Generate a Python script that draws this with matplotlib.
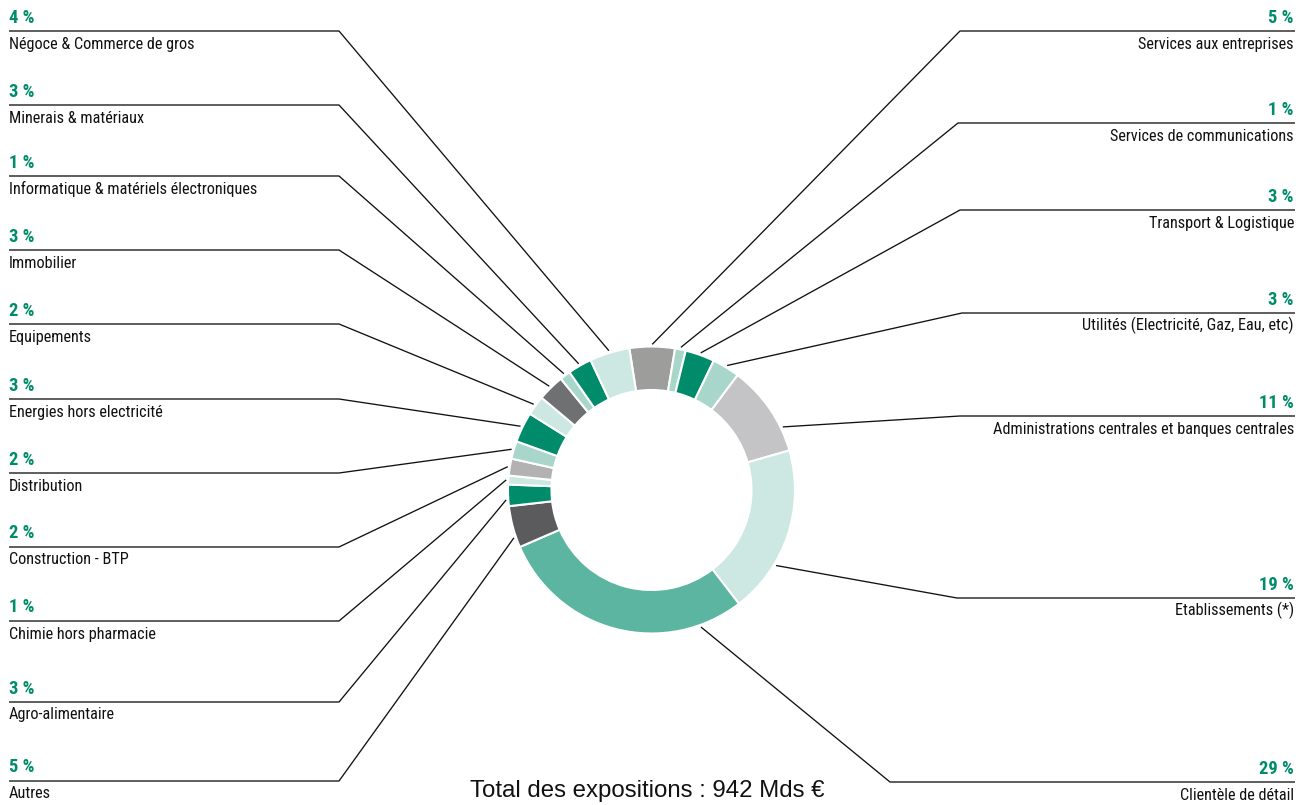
import numpy as np
import matplotlib
matplotlib.use("Agg")
import matplotlib.pyplot as plt
from matplotlib import font_manager


# Sectors, clockwise from the top of the ring
sectors = [
    "Services aux entreprises",
    "Services de communications",
    "Transport & Logistique",
    "Utilités (Electricité, Gaz, Eau, etc)",
    "Administrations centrales et banques centrales",
    "Etablissements (*)",
    "Clientèle de détail",
    "Autres",
    "Agro-alimentaire",
    "Chimie hors pharmacie",
    "Construction - BTP",
    "Distribution",
    "Energies hors electricité",
    "Equipements",
    "Immobilier",
    "Informatique & matériels électroniques",
    "Minerais & matériaux",
    "Négoce & Commerce de gros",
]
# share of each slice
shares = [5.1, 1.2, 3.3, 3.1, 10.3, 19.0, 28.9, 4.7, 2.4, 1.0,
          1.9, 2.0, 3.4, 2.2, 3.0, 1.2, 2.7, 4.5]
# percentages printed next to each sector
pct_labels = [5, 1, 3, 3, 11, 19, 29, 5, 3, 1, 2, 2, 3, 2, 3, 1, 3, 4]
total_text = "Total des expositions : 942 Mds €"

GREEN = "#008c6b"
TEAL = "#5bb5a0"
LTEAL = "#a8d6cb"
VLTEAL = "#cde8e2"
colors = ["#9d9d9c", LTEAL, GREEN, LTEAL, "#c4c4c6", VLTEAL, TEAL,
          "#5b5b5d", GREEN, VLTEAL, "#b2b2b3", LTEAL, GREEN, VLTEAL,
          "#6f7072", LTEAL, GREEN, VLTEAL]

# layout (pixels from top of the image)
W, H = 1311, 805
CX, CY, R = 651.5, 490, 143.5
n_right = 7
right_rows = [31, 123, 210, 313, 416, 598, 782]
right_elbow = [960, 958, 960, 962, 960, 957, 890]
left_rows = [31, 105, 176, 250, 324, 399, 473, 547, 621, 702, 781]
LEFT_ELBOW = 339
# where the leader line touches each slice (0 = clockwise start, 1 = end)
leader_pos = [0.5, 0.5, 0.5, 0.5, 0.74, 0.69, 0.17, 0.25, 0.3, 0.5,
              0.5, 0.5, 0.5, 0.5, 0.5, 0.5, 0.5, 0.5]


def py(y):
    return H - y


# pick a condensed face if one is installed
names = {f.name for f in font_manager.fontManager.ttflist}
stretches = {(f.name, f.stretch) for f in font_manager.fontManager.ttflist}
if "Liberation Sans Narrow" in names:
    cond = dict(family="Liberation Sans Narrow")
elif "Roboto Condensed" in names:
    cond = dict(family="Roboto Condensed")
elif ("DejaVu Sans", "condensed") in stretches:
    cond = dict(family="DejaVu Sans", stretch="condensed")
else:
    cond = dict(family="Liberation Sans")

fig = plt.figure(figsize=(W / 100, H / 100), dpi=100)
ax = fig.add_axes([0, 0, 1, 1])

wedges, _ = ax.pie(shares, colors=colors, radius=R, center=(CX, py(CY)),
                   startangle=98.9, counterclock=False,
                   wedgeprops=dict(width=43.5, edgecolor="white", linewidth=1.5))

rows = []
for i in range(len(sectors)):
    if i < n_right:
        rows.append(("right", right_rows[i], right_elbow[i]))
    else:
        # left side is listed top to bottom, slices run bottom to top
        j = len(sectors) - 1 - i
        rows.append(("left", left_rows[j], LEFT_ELBOW))

for i, w in enumerate(wedges):
    side, ly, ex = rows[i]
    ang = np.deg2rad(w.theta2 - leader_pos[i] * (w.theta2 - w.theta1))
    ax_x = CX + R * 1.015 * np.cos(ang)
    ax_y = py(CY) + R * 1.015 * np.sin(ang)
    if side == "right":
        xs = [ax_x, ex, 1295]
        tx, ha = 1294, "right"
    else:
        xs = [ax_x, ex, 9]
        tx, ha = 9, "left"
    ax.plot(xs, [ax_y, py(ly), py(ly)], color="#111111", lw=0.95,
            solid_capstyle="butt")
    ax.text(tx, py(ly - 8.5), f"{pct_labels[i]} %", ha=ha, va="baseline",
            fontsize=13.3, fontweight="bold", color=GREEN, **cond)
    ax.text(tx, py(ly + 17.5), sectors[i], ha=ha, va="baseline",
            fontsize=11.7, color="#111111", **cond)

ax.text(647, py(797), total_text, ha="center", va="baseline",
        fontsize=17.3, color="#111111", family="Liberation Sans")

ax.set_xlim(0, W)
ax.set_ylim(0, H)
ax.set_aspect("equal")
ax.axis("off")

fig.savefig("out.png", dpi=100)
